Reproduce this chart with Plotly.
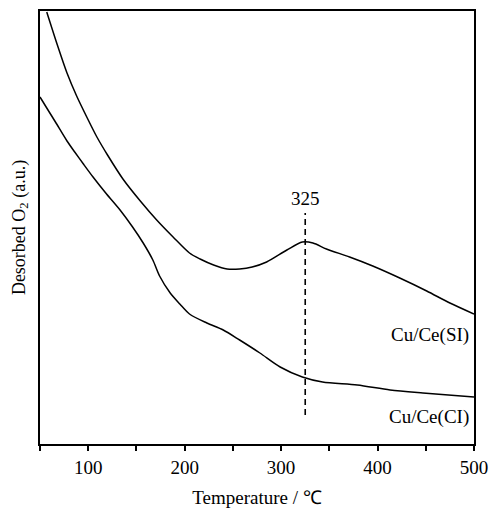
import plotly.graph_objects as go

# O2-TPD traces, intensity in arbitrary units
temp_si = [57, 68, 78, 88, 99, 109, 120, 136, 154, 171, 188, 205, 216, 230, 244, 257, 270, 285, 306, 322, 333, 347, 371, 395, 423, 451, 475, 500]
sig_si = [432, 399, 371, 348, 326, 307, 289, 265, 243, 224, 207, 191, 185, 179, 175, 175, 177, 182, 194, 202, 201, 195, 187, 178, 166, 153, 141, 130]

temp_ci = [50, 57, 66, 78, 86, 95, 105, 119, 133, 146, 157, 167, 174, 185, 195, 205, 223, 240, 257, 278, 299, 322, 343, 379, 413, 447, 500]
sig_ci = [347, 336, 322, 303, 292, 280, 267, 250, 234, 217, 201, 184, 168, 151, 140, 130, 121, 114, 104, 91, 77, 67, 62, 59, 54, 51, 47]

peak_temp = 325
peak_span = [29, 231]
labels = ["Cu/Ce(SI)", "Cu/Ce(CI)"]
label_y = [109, 27]

font = "Liberation Serif, Times New Roman, serif"

fig = go.Figure()
for t, s in [(temp_si, sig_si), (temp_ci, sig_ci)]:
    fig.add_trace(go.Scatter(x=t, y=s, mode="lines", showlegend=False,
                             line=dict(color="black", width=1.5, shape="spline", smoothing=0.8)))

fig.add_trace(go.Scatter(x=[peak_temp, peak_temp], y=peak_span, mode="lines", showlegend=False,
                         line=dict(color="black", width=1.6, dash="6px,4px")))

fig.add_annotation(x=peak_temp, y=peak_span[1], text=str(peak_temp), showarrow=False,
                   yanchor="bottom", yshift=2, font=dict(size=19, family=font, color="black"))
for txt, yy in zip(labels, label_y):
    fig.add_annotation(x=497, y=yy, text=txt, showarrow=False, xanchor="right",
                       font=dict(size=19, family=font, color="black"))

fig.update_layout(
    width=489, height=508,
    margin=dict(l=40, r=15, t=11, b=64),
    plot_bgcolor="white", paper_bgcolor="white",
    font=dict(family=font, size=18, color="black"),
    xaxis=dict(range=[50, 500], tickvals=[100, 200, 300, 400, 500], ticks="outside", ticklen=5,
               tickwidth=1.5, tickcolor="black", showline=True, linecolor="black", linewidth=2,
               mirror=True, showgrid=False, zeroline=False, automargin=False,
               minor=dict(tickvals=[50, 150, 250, 350, 450], ticks="outside", ticklen=5,
                          tickcolor="black", tickwidth=1.5),
               title=dict(text="Temperature / ℃", font=dict(size=19, family=font), standoff=14),
               tickfont=dict(size=19, family=font)),
    yaxis=dict(range=[0, 433], showticklabels=False, ticks="", showline=True, linecolor="black",
               linewidth=2, mirror=True, showgrid=False, zeroline=False, automargin=False,
               title=dict(text="Desorbed O<sub>2</sub> (a.u.)", font=dict(size=18, family=font), standoff=8)),
)

fig.write_html("out.html")
